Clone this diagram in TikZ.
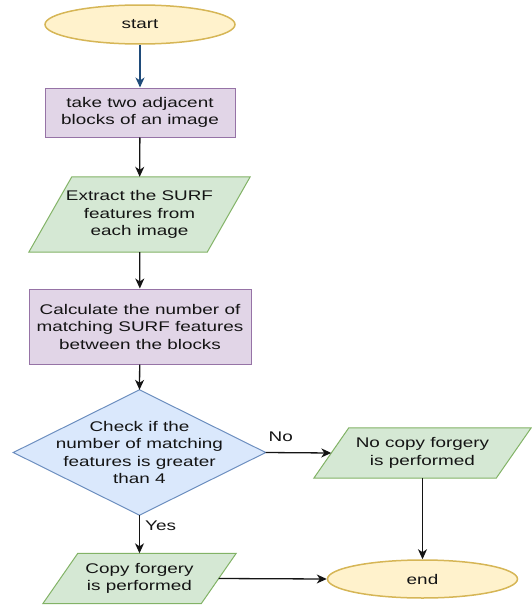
\documentclass[tikz,border=0pt]{standalone}
\usepackage{fontspec}
\setmainfont{Liberation Sans}[FakeStretch=1.35]
\usetikzlibrary{arrows.meta,backgrounds,shapes.geometric}
\definecolor{yelF}{HTML}{FFF2CC}
\definecolor{yelD}{HTML}{D6B656}
\definecolor{purF}{HTML}{E1D5E7}
\definecolor{purD}{HTML}{9673A6}
\definecolor{grnF}{HTML}{D5E8D4}
\definecolor{grnD}{HTML}{82B366}
\definecolor{bluF}{HTML}{DAE8FC}
\definecolor{bluD}{HTML}{6C8EBF}
\definecolor{navy}{HTML}{1F4B7A}
\definecolor{ink}{HTML}{141414}
\newcommand\drawpara[2]{%
  \draw[iofill] ([xshift=#2]#1.north west) -- ([xshift=#2]#1.north east)
    -- ([xshift=-#2]#1.south east) -- ([xshift=-#2]#1.south west) -- cycle;}
\begin{document}
\begin{tikzpicture}[x=1pt,y=-1pt,
  txt/.style={font=\fontsize{14}{17.5}\selectfont, align=center, text=ink, inner sep=0pt},
  term/.style={txt, ellipse, draw=yelD, fill=yelF, line width=1.5pt},
  proc/.style={txt, rectangle, draw=purD, fill=purF, line width=1pt},
  iobox/.style={txt, rectangle},
  iofill/.style={draw=grnD, fill=grnF, line width=1pt},
  decbox/.style={txt, rectangle},
  decfill/.style={draw=bluD, fill=bluF, line width=1pt},
  arr/.style={-{Stealth[length=10pt,width=9pt,inset=3pt]}, line width=1.3pt, ink},
  lbl/.style={font=\fontsize{14}{17}\selectfont, text=ink, inner sep=0pt}]
\useasboundingbox (0,0) rectangle (531,605);

\node[term, minimum width=190pt, minimum height=39pt] (st) at (140,24.5) {start};
\node[proc, minimum width=190pt, minimum height=49pt] (b1) at (140,112.5)
  {take two adjacent\\blocks of an image};
\node[iobox, minimum width=178pt, minimum height=75pt] (p1) at (139.5,214.5)
  {Extract the SURF\\features from\\each image};
\node[proc, minimum width=222pt, minimum height=75pt] (b2) at (140,326.5)
  {Calculate the number of\\matching SURF features\\between the blocks};
\node[decbox, minimum width=252pt, minimum height=125pt] (dc) at (139.5,452.5)
  {Check if the\\number of matching\\features is greater\\than 4};
\node[iobox, minimum width=182pt, minimum height=50pt] (nc) at (422.5,453)
  {No copy forgery\\is performed};
\node[term, minimum width=190pt, minimum height=38pt] (en) at (422.5,579) {end};
\node[iobox, minimum width=158pt, minimum height=50pt] (cp) at (139.5,578.5)
  {Copy forgery\\is performed};

\begin{scope}[on background layer]
  \drawpara{p1}{21.5pt}
  \drawpara{nc}{17.5pt}
  \drawpara{cp}{17.5pt}
  \draw[decfill] (dc.north) -- (dc.east) -- (dc.south) -- (dc.west) -- cycle;
\end{scope}

\draw[arr, navy] (st) -- (b1);
\draw[arr] (b1) -- (p1);
\draw[arr] (p1) -- (b2);
\draw[arr] (b2) -- (dc.north);
\draw[arr] (dc.east) -- node[lbl, pos=0.23, above=10pt] {No} (nc.west);
\draw[arr] (dc.south) -- node[lbl, pos=0.28, right=5pt] {Yes} (cp.north);
\draw[arr] (nc) -- (en);
\draw[arr] (cp.east) -- (en.west);
\end{tikzpicture}
\end{document}
